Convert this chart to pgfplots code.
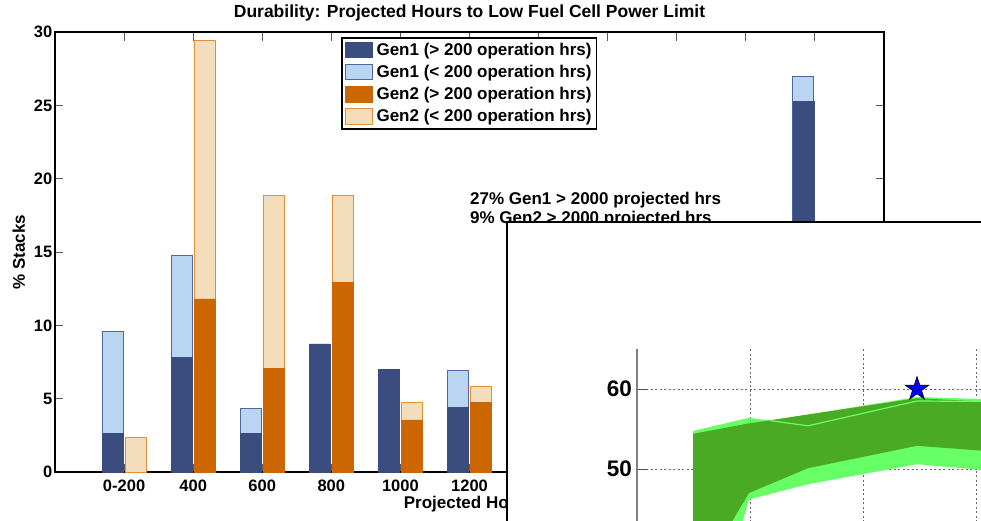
\documentclass[border=0pt]{standalone}
\usepackage{pgfplots}
\pgfplotsset{compat=1.18}
\usepackage{fontspec}
\setmainfont{Liberation Sans}
\definecolor{gOneDark}{RGB}{59,77,126}
\definecolor{gOneLight}{RGB}{185,213,242}
\definecolor{gOneEdge}{RGB}{80,102,160}
\definecolor{gTwoDark}{RGB}{204,102,0}
\definecolor{gTwoLight}{RGB}{243,221,186}
\definecolor{gTwoEdge}{RGB}{228,140,55}
\definecolor{dgreen}{RGB}{74,170,36}
\definecolor{lgreen}{RGB}{102,255,102}
\pgfdeclareplotmark{fivestar}{%
  \pgfpathmoveto{\pgfpointpolar{90}{\pgfplotmarksize}}%
  \pgfpathlineto{\pgfpointpolar{126}{0.382\pgfplotmarksize}}%
  \pgfpathlineto{\pgfpointpolar{162}{\pgfplotmarksize}}%
  \pgfpathlineto{\pgfpointpolar{198}{0.382\pgfplotmarksize}}%
  \pgfpathlineto{\pgfpointpolar{234}{\pgfplotmarksize}}%
  \pgfpathlineto{\pgfpointpolar{270}{0.382\pgfplotmarksize}}%
  \pgfpathlineto{\pgfpointpolar{306}{\pgfplotmarksize}}%
  \pgfpathlineto{\pgfpointpolar{342}{0.382\pgfplotmarksize}}%
  \pgfpathlineto{\pgfpointpolar{18}{\pgfplotmarksize}}%
  \pgfpathlineto{\pgfpointpolar{54}{0.382\pgfplotmarksize}}%
  \pgfpathclose\pgfusepathqfillstroke}
\newcommand{\lab}{\fontsize{17}{20}\selectfont\bfseries}
\newcommand{\tlab}{\fontsize{16.5}{18}\selectfont\bfseries}
\begin{document}
\begin{tikzpicture}[x=1pt,y=1pt]
\path[use as bounding box] (0pt,0pt) rectangle (981pt,520pt);
\begin{axis}[
  at={(55pt,48pt)}, anchor=south west,
  scale only axis, width=829pt, height=440pt,
  xmin=0, xmax=12, ymin=0, ymax=30,
  xtick={1,...,11},
  xticklabels={0-200,400,600,800,1000,1200,{},{},{},{},{}},
  ytick={0,5,...,30},
  tick align=inside,
  major tick length=8.5pt,
  every tick/.style={black!65, line width=1pt},
  axis line style={line width=1.6pt, black},
  ticklabel style={font=\tlab},
  /pgf/number format/assume math mode=true,
  xticklabel style={anchor=base, yshift=-19pt, inner sep=0pt},
  yticklabel style={anchor=east, inner sep=0pt, xshift=-2.5pt},
  title={Durability: Projected Hours to Low Fuel Cell Power Limit},
  title style={at={(axis description cs:0.5,1)}, anchor=base, yshift=8pt, inner sep=0pt, font=\fontsize{17.5}{20}\selectfont\bfseries},
  every axis x label/.style={at={(axis description cs:0.5,0)}, anchor=base, yshift=-36pt, inner sep=0pt, font=\lab},
  every axis y label/.style={at={(axis description cs:-0.0362,0.5)}, rotate=90, anchor=base, inner sep=0pt, font=\lab},
  xlabel={Projected Hours},
  ylabel={\% Stacks},
  legend image code/.code={\draw[#1] (0pt,-7.5pt) rectangle (27pt,8pt);},
  legend style={at={(0.345,0.9886)}, anchor=north west, draw=black, line width=1.5pt,
    font=\lab, inner xsep=3pt, inner ysep=3.5pt, row sep=4.3pt, column sep=2pt,
    cells={anchor=west}},
]
% Gen1 total (light) then Gen1 > 200 hrs (dark)
\addplot[ybar, forget plot, bar width=21pt, bar shift=-11.5pt, fill=gOneLight, draw=gOneEdge, line width=0.9pt]
  coordinates {(1,9.57) (2,14.77) (3,4.36) (4,8.73) (5,7.0) (6,6.95) (11,26.98)};
\addplot[ybar, forget plot, bar width=21pt, bar shift=-11.5pt, fill=gOneDark, draw=gOneDark, line width=0.6pt]
  coordinates {(1,2.64) (2,7.84) (3,2.64) (4,8.73) (5,7.0) (6,4.39) (11,25.25)};
% Gen2 total (light) then Gen2 > 200 hrs (dark)
\addplot[ybar, forget plot, bar width=21pt, bar shift=11.5pt, fill=gTwoLight, draw=gTwoEdge, line width=0.9pt]
  coordinates {(1,2.34) (2,29.45) (3,18.84) (4,18.84) (5,4.73) (6,5.86) (11,9.0)};
\addplot[ybar, forget plot, bar width=21pt, bar shift=11.5pt, fill=gTwoDark, draw=gTwoDark, line width=0.6pt]
  coordinates {(2,11.8) (3,7.07) (4,12.95) (5,3.55) (6,4.73) (11,7.0)};
\addlegendimage{fill=gOneDark, draw=gOneDark, line width=0.8pt}
\addlegendentry{Gen1 (> 200 operation hrs)}
\addlegendimage{fill=gOneLight, draw=gOneEdge, line width=0.8pt}
\addlegendentry{Gen1 (< 200 operation hrs)}
\addlegendimage{fill=gTwoDark, draw=gTwoDark, line width=0.8pt}
\addlegendentry{Gen2 (> 200 operation hrs)}
\addlegendimage{fill=gTwoLight, draw=gTwoEdge, line width=0.8pt}
\addlegendentry{Gen2 (< 200 operation hrs)}
\end{axis}
\node[anchor=base west, inner sep=0pt, font=\lab] at (470pt,315pt) {27\% Gen1 > 2000 projected hrs};
\node[anchor=base west, inner sep=0pt, font=\lab] at (470pt,297pt) {9\% Gen2 > 2000 projected hrs};
\begin{scope}
\clip (507pt,0pt) rectangle (981pt,298pt);
\fill[white] (507pt,0pt) rectangle (981pt,298pt);
\begin{axis}[
  at={(637pt,-29pt)}, anchor=south west,
  scale only axis, width=395.5pt, height=200pt,
  xmin=0, xmax=3.5, ymin=40, ymax=65,
  axis x line*=bottom, axis y line*=left,
  xtick={1,2,3}, xticklabels={},
  ytick={50,60},
  grid=major,
  grid style={dash pattern=on 2pt off 2.5pt, black!60, line width=0.8pt},
  y axis line style={line width=1.5pt, black!50},
  x axis line style={draw=none},
  tick align=inside, major tick length=10pt,
  every tick/.style={black!70, line width=1pt},
  /pgf/number format/assume math mode=true,
  yticklabel style={font=\fontsize{22.5}{24}\selectfont\bfseries, anchor=east, inner sep=0pt, xshift=-5pt},
]
\addplot[fill=lgreen, draw=none] coordinates {
  (0.496,54.75) (0.991,56.4) (1.177,56.05) (2.478,59.0) (3.044,58.75) (3.5,58.6)
  (3.5,49.5) (3.044,49.9) (2.478,50.6) (1.513,48.1) (0.991,46.2) (0.496,22)} -- cycle;
\addplot[fill=dgreen, draw=none] coordinates {
  (0.496,54.4) (0.991,55.7) (2.478,58.85) (3.044,58.45) (3.5,58.2)
  (3.5,52.0) (3.044,52.3) (2.478,52.9) (1.513,50.1) (0.991,47.0) (0.496,35.2)} -- cycle;
\addplot[lgreen, line width=1.2pt] coordinates {
  (1.177,56.05) (1.513,55.4) (2.478,58.5) (3.044,58.45) (3.5,58.4)};
\addplot[only marks, mark=fivestar, mark size=12.5pt, mark options={fill=blue, draw=black, line width=0.6pt}]
  coordinates {(2.478,60)};
\end{axis}
\end{scope}
\draw[line width=2pt] (507pt,-2pt) -- (507pt,298pt) -- (983pt,298pt);
\end{tikzpicture}
\end{document}
